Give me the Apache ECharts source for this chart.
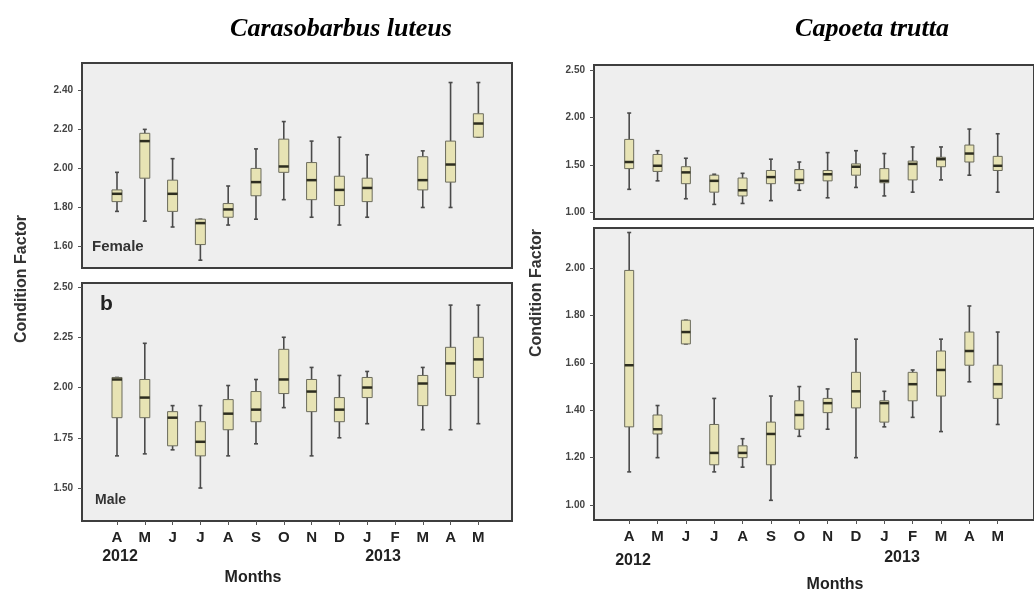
<!DOCTYPE html>
<html><head><meta charset="utf-8">
<script src="https://cdn.jsdelivr.net/npm/echarts@6/dist/echarts.min.js"></script>
<style>html,body{margin:0;padding:0;background:#fff}#c{width:1034px;height:591px}</style>
</head><body><div id="c"></div>
<script>
// ---- data ----
const months = ['A','M','J','J','A','S','O','N','D','J','F','M','A','M'];
const speciesTitles = ['Carasobarbus luteus', 'Capoeta trutta'];
const yearLabels = ['2012', '2013'];
const femaleTicks = [1.60, 1.80, 2.00, 2.20, 2.40];
const maleTicks = [1.50, 1.75, 2.00, 2.25, 2.50];
const truttaTopTicks = [1.00, 1.50, 2.00, 2.50];
const truttaBottomTicks = [1.00, 1.20, 1.40, 1.60, 1.80, 2.00];
// each entry: [lower whisker, Q1, median, Q3, upper whisker]; null = no sample
const luteusFemale = [
  [1.78,1.83,1.87,1.89,1.98],
  [1.73,1.95,2.14,2.18,2.20],
  [1.70,1.78,1.87,1.94,2.05],
  [1.53,1.61,1.72,1.74,1.74],
  [1.71,1.75,1.79,1.82,1.91],
  [1.74,1.86,1.93,2.00,2.10],
  [1.84,1.98,2.01,2.15,2.24],
  [1.75,1.84,1.94,2.03,2.14],
  [1.71,1.81,1.89,1.96,2.16],
  [1.75,1.83,1.90,1.95,2.07],
  null,
  [1.80,1.89,1.94,2.06,2.09],
  [1.80,1.93,2.02,2.14,2.44],
  [2.16,2.16,2.23,2.28,2.44]
];
const luteusMale = [
  [1.66,1.85,2.04,2.05,2.05],
  [1.67,1.85,1.95,2.04,2.22],
  [1.69,1.71,1.85,1.88,1.91],
  [1.50,1.66,1.73,1.83,1.91],
  [1.66,1.79,1.87,1.94,2.01],
  [1.72,1.83,1.89,1.98,2.04],
  [1.90,1.97,2.04,2.19,2.25],
  [1.66,1.88,1.98,2.04,2.10],
  [1.75,1.83,1.89,1.95,2.06],
  [1.82,1.95,2.00,2.05,2.08],
  null,
  [1.79,1.91,2.02,2.06,2.10],
  [1.79,1.96,2.12,2.20,2.41],
  [1.82,2.05,2.14,2.25,2.41]
];
const truttaTop = [
  [1.24,1.46,1.53,1.77,2.05],
  [1.33,1.43,1.49,1.61,1.65],
  [1.14,1.30,1.42,1.48,1.57],
  [1.08,1.21,1.33,1.39,1.40],
  [1.09,1.17,1.23,1.36,1.41],
  [1.12,1.30,1.37,1.44,1.56],
  [1.23,1.30,1.34,1.45,1.53],
  [1.15,1.33,1.40,1.44,1.63],
  [1.26,1.39,1.48,1.51,1.65],
  [1.17,1.31,1.33,1.46,1.62],
  [1.21,1.34,1.51,1.54,1.69],
  [1.34,1.48,1.56,1.58,1.69],
  [1.39,1.53,1.62,1.71,1.88],
  [1.21,1.44,1.49,1.59,1.83]
];
const truttaBottom = [
  [1.14,1.33,1.59,1.99,2.15],
  [1.20,1.30,1.32,1.38,1.42],
  [1.68,1.68,1.73,1.78,1.78],
  [1.14,1.17,1.22,1.34,1.45],
  [1.16,1.20,1.22,1.25,1.28],
  [1.02,1.17,1.30,1.35,1.46],
  [1.29,1.32,1.38,1.44,1.50],
  [1.32,1.39,1.43,1.45,1.49],
  [1.20,1.41,1.48,1.56,1.70],
  [1.33,1.35,1.43,1.44,1.48],
  [1.37,1.44,1.51,1.56,1.57],
  [1.31,1.46,1.57,1.65,1.70],
  [1.52,1.59,1.65,1.73,1.84],
  [1.34,1.45,1.51,1.59,1.73]
];

// ---- helpers ----
const monthIdx = months.map((m, i) => i);
function toData(arr) {
  const out = [];
  arr.forEach((b, i) => { if (b) out.push([i].concat(b)); });
  return out;
}
function boxRenderer(hw) {
  return function (params, api) {
    const x = api.value(0);
    const c = v => api.coord([x, v]);
    const lo = c(api.value(1)), q1 = c(api.value(2)), md = c(api.value(3)),
          q3 = c(api.value(4)), hi = c(api.value(5));
    const cx = lo[0], cap = 2;
    const whisk = { stroke: '#4a4a4a', lineWidth: 1.6 };
    return {
      type: 'group', children: [
        { type: 'line', shape: { x1: cx, y1: hi[1], x2: cx, y2: q3[1] }, style: whisk },
        { type: 'line', shape: { x1: cx, y1: q1[1], x2: cx, y2: lo[1] }, style: whisk },
        { type: 'line', shape: { x1: cx - cap, y1: hi[1], x2: cx + cap, y2: hi[1] }, style: whisk },
        { type: 'line', shape: { x1: cx - cap, y1: lo[1], x2: cx + cap, y2: lo[1] }, style: whisk },
        { type: 'rect', shape: { x: cx - hw, y: q3[1], width: 2 * hw, height: Math.max(q1[1] - q3[1], 1) },
          style: { fill: '#e7e3b4', stroke: '#6b6b5c', lineWidth: 1 } },
        { type: 'line', shape: { x1: cx - hw, y1: md[1], x2: cx + hw, y2: md[1] },
          style: { stroke: '#2d2d20', lineWidth: 2.5 } }
      ]
    };
  };
}
const gridStyle = { show: true, backgroundColor: '#eeeeee', borderColor: '#3e3e3e', borderWidth: 2 };
function yAxis(gi, min, max, ticks) {
  return {
    type: 'value', gridIndex: gi, min: min, max: max, position: 'left',
    axisLine: { show: false, onZero: false }, splitLine: { show: false },
    axisTick: { show: true, inside: false, length: 4, customValues: ticks, lineStyle: { color: '#555' } },
    axisLabel: { customValues: ticks, margin: 9, formatter: v => v.toFixed(2),
      fontFamily: 'Liberation Sans', fontSize: 10, fontWeight: 'bold', color: '#444' }
  };
}
function xAxis(gi, min, max, labels) {
  return {
    type: 'value', gridIndex: gi, min: min, max: max, position: 'bottom',
    axisLine: { show: false, onZero: false }, splitLine: { show: false },
    axisTick: { show: labels, length: 4, customValues: monthIdx, lineStyle: { color: '#555' } },
    axisLabel: { show: labels, customValues: monthIdx, margin: 9,
      formatter: v => months[Math.round(v)] || '',
      fontFamily: 'Liberation Sans', fontSize: 15, fontWeight: 'bold', color: '#222' }
  };
}
const lblFont = 'bold 16px "Liberation Sans"';
const titleFont = 'italic bold 26px "Liberation Serif"';

const option = {
  animation: false,
  grid: [
    Object.assign({ left: 82, top: 63, width: 430, height: 205 }, gridStyle),
    Object.assign({ left: 82, top: 283, width: 430, height: 238 }, gridStyle),
    Object.assign({ left: 594, top: 65, width: 450, height: 154 }, gridStyle),
    Object.assign({ left: 594, top: 228, width: 450, height: 292 }, gridStyle)
  ],
  xAxis: [
    xAxis(0, -1.259, 14.21, false),
    xAxis(1, -1.259, 14.21, true),
    xAxis(2, -1.241, 14.28, false),
    xAxis(3, -1.241, 14.28, true)
  ],
  yAxis: [
    yAxis(0, 1.49, 2.54, femaleTicks),
    yAxis(1, 1.336, 2.52, maleTicks),
    yAxis(2, 0.925, 2.56, truttaTopTicks),
    yAxis(3, 0.937, 2.169, truttaBottomTicks)
  ],
  series: [
    { type: 'custom', xAxisIndex: 0, yAxisIndex: 0, renderItem: boxRenderer(5), data: toData(luteusFemale) },
    { type: 'custom', xAxisIndex: 1, yAxisIndex: 1, renderItem: boxRenderer(5), data: toData(luteusMale) },
    { type: 'custom', xAxisIndex: 2, yAxisIndex: 2, renderItem: boxRenderer(4.5), data: toData(truttaTop) },
    { type: 'custom', xAxisIndex: 3, yAxisIndex: 3, renderItem: boxRenderer(4.5), data: toData(truttaBottom) }
  ],
  graphic: [
    { type: 'text', x: 341, y: 29, style: { text: speciesTitles[0], font: titleFont, fill: '#000', align: 'center', verticalAlign: 'middle' } },
    { type: 'text', x: 872, y: 29, style: { text: speciesTitles[1], font: titleFont, fill: '#000', align: 'center', verticalAlign: 'middle' } },
    { type: 'text', x: 22, y: 279, rotation: Math.PI / 2, style: { text: 'Condition Factor', font: lblFont, fill: '#333', align: 'center', verticalAlign: 'middle' } },
    { type: 'text', x: 537, y: 293, rotation: Math.PI / 2, style: { text: 'Condition Factor', font: lblFont, fill: '#333', align: 'center', verticalAlign: 'middle' } },
    { type: 'text', x: 92, y: 247, style: { text: 'Female', font: 'bold 15px "Liberation Sans"', fill: '#333', align: 'left', verticalAlign: 'middle' } },
    { type: 'text', x: 95, y: 500, style: { text: 'Male', font: 'bold 14px "Liberation Sans"', fill: '#333', align: 'left', verticalAlign: 'middle' } },
    { type: 'text', x: 100, y: 304, style: { text: 'b', font: 'bold 21px "Liberation Sans"', fill: '#222', align: 'left', verticalAlign: 'middle' } },
    { type: 'text', x: 120, y: 557, style: { text: yearLabels[0], font: lblFont, fill: '#222', align: 'center', verticalAlign: 'middle' } },
    { type: 'text', x: 383, y: 557, style: { text: yearLabels[1], font: lblFont, fill: '#222', align: 'center', verticalAlign: 'middle' } },
    { type: 'text', x: 253, y: 578, style: { text: 'Months', font: lblFont, fill: '#222', align: 'center', verticalAlign: 'middle' } },
    { type: 'text', x: 633, y: 561, style: { text: yearLabels[0], font: lblFont, fill: '#222', align: 'center', verticalAlign: 'middle' } },
    { type: 'text', x: 902, y: 558, style: { text: yearLabels[1], font: lblFont, fill: '#222', align: 'center', verticalAlign: 'middle' } },
    { type: 'text', x: 835, y: 585, style: { text: 'Months', font: lblFont, fill: '#222', align: 'center', verticalAlign: 'middle' } }
  ]
};
const chart = echarts.init(document.getElementById('c'), null, { renderer: 'canvas' });
chart.setOption(option);
</script></body></html>
